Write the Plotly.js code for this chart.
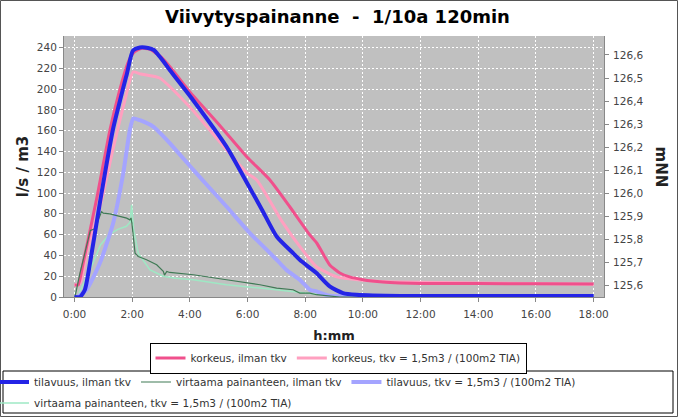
<!DOCTYPE html>
<html>
<head>
<meta charset="utf-8">
<script src="https://cdn.plot.ly/plotly-3.0.1.min.js"></script>
<style>
  html, body { margin: 0; padding: 0; background: #fff; }
  #chart { width: 678px; height: 417px; }
</style>
</head>
<body>
<div id="chart"></div>
<script>
// ---- Data (time in hours) ----
const tickHours = [0, 2, 4, 6, 8, 10, 12, 14, 16, 18];
const tickLabels = ["0:00", "2:00", "4:00", "6:00", "8:00", "10:00", "12:00", "14:00", "16:00", "18:00"];

// korkeus, ilman tkv (mNN, right axis)
const korkeusIlmanT = [0, 0.13, 0.3, 0.78, 1.23, 1.55, 1.85, 2.05, 2.3, 2.6, 3.0, 3.4, 4.0, 5.0, 5.98, 6.77, 7.47, 8.16, 8.4, 8.85, 9.2, 9.54, 10.0, 10.69, 11.28, 12, 14, 16, 18];
const korkeusIlmanV = [125.603, 125.604, 125.698, 125.984, 126.275, 126.44, 126.565, 126.61, 126.628, 126.625, 126.591, 126.535, 126.44, 126.30, 126.158, 126.059, 125.941, 125.82, 125.785, 125.69, 125.655, 125.638, 125.626, 125.616, 125.612, 125.61, 125.609, 125.608, 125.607];

// korkeus, tkv = 1,5m3 / (100m2 TIA) (mNN, right axis)
const korkeusTkvT = [0, 0.2, 0.47, 0.9, 1.33, 1.75, 2.03, 2.3, 2.95, 4.0, 5.98, 6.32, 7.23, 7.9, 8.4, 9.1, 9.9, 11.28, 14, 18];
const korkeusTkvV = [125.603, 125.612, 125.768, 125.95, 126.188, 126.405, 126.526, 126.517, 126.5, 126.374, 126.088, 126.058, 125.872, 125.755, 125.681, 125.638, 125.625, 125.616, 125.612, 125.606];

// tilavuus, ilman tkv (m3, left axis)
const tilavuusIlmanT = [0, 0.19, 0.36, 0.54, 0.88, 1.33, 1.82, 2.03, 2.27, 2.55, 2.75, 2.9, 3.1, 3.31, 4.12, 5.27, 6.08, 6.5, 7.01, 7.58, 7.81, 8.16, 8.39, 8.85, 9.31, 9.78, 11.3, 14, 18];
const tilavuusIlmanV = [0, 0, 7, 33, 90.5, 160.6, 215, 237, 240, 239.5, 237.5, 233, 226, 218, 189, 144.6, 104.8, 84, 58.2, 42.2, 35.8, 28, 23, 10.2, 3.8, 2.2, 1, 1, 1];

// virtaama painanteen, ilman tkv (l/s, left axis)
const virtaamaIlmanT = [0, 0.02, 0.19, 0.42, 0.55, 0.75, 0.82, 0.94, 1.0, 1.23, 1.5, 1.81, 1.92, 1.96, 1.99, 2.1, 2.21, 2.5, 2.85, 2.96, 3.08, 3.12, 3.2, 3.3, 4.12, 5.27, 6.08, 6.43, 7.01, 7.58, 7.81, 8.16, 8.39, 8.85, 9.2, 18];
const virtaamaIlmanV = [0, 0.6, 23, 48.6, 64, 66, 74, 82, 80.6, 80, 78, 75.8, 74.2, 76, 71, 42.2, 39, 35.8, 31, 27.8, 24.6, 21, 24.6, 23.6, 21.4, 16.6, 13.4, 11.8, 8.6, 7, 3.8, 3.8, 2.2, 1.2, 0, 0];

// tilavuus, tkv = 1,5m3 / (100m2 TIA) (m3, left axis)
const tilavuusTkvT = [0, 0.09, 0.42, 0.88, 1.34, 1.69, 1.92, 2.04, 2.27, 2.73, 3.31, 4.12, 5.27, 6.08, 6.43, 7.01, 7.35, 7.81, 8.16, 8.39, 8.8, 9.3, 9.6, 18];
const tilavuusTkvV = [0, 0, 7, 32.6, 71, 119, 160.6, 171.8, 170, 163.8, 147.8, 122.2, 87, 61.4, 51.8, 35.8, 26, 16.6, 7, 5.4, 1.5, 0.5, 0, 0];

// virtaama painanteen, tkv = 1,5m3 / (100m2 TIA) (l/s, left axis)
const virtaamaTkvT = [0, 0.1, 0.6, 0.9, 1.2, 1.5, 1.8, 1.93, 1.98, 2.05, 2.21, 2.62, 3.08, 3.5, 4.12, 5.27, 6.43, 7.58, 8.16, 8.8, 9.5, 10, 18];
const virtaamaTkvV = [0, 0, 30, 50, 60, 65, 68, 72, 88.6, 65, 42, 26, 20, 18, 16.6, 11.8, 8.6, 5.4, 3.8, 1.5, 0.3, 0, 0];

const names = {
  korkeusIlman: "korkeus, ilman tkv",
  korkeusTkv: "korkeus, tkv = 1,5m3 / (100m2 TIA)",
  tilavuusIlman: "tilavuus, ilman tkv",
  virtaamaIlman: "virtaama painanteen, ilman tkv",
  tilavuusTkv: "tilavuus, tkv = 1,5m3 / (100m2 TIA)",
  virtaamaTkv: "virtaama painanteen, tkv = 1,5m3 / (100m2 TIA)"
};

// ---- Geometry helpers (plot area 64..604 x, 36..297 y) ----
const W = 678, H = 417, ML = 64, MR = 74, MT = 36, MB = 120;
const PW = W - ML - MR, PH = H - MT - MB;
const px2x = p => (p - ML) / PW;
const px2y = p => 1 - (p - MT) / PH;

const FONT = "DejaVu Sans";

const traces = [
  { x: korkeusTkvT, y: korkeusTkvV, name: names.korkeusTkv, yaxis: "y", legend: "legend", legendrank: 2,
    mode: "lines", line: { color: "#ffa0c0", width: 3, shape: "spline", smoothing: 0.5 } },
  { x: korkeusIlmanT, y: korkeusIlmanV, name: names.korkeusIlman, yaxis: "y", legend: "legend", legendrank: 1,
    mode: "lines", line: { color: "#f0508c", width: 3, shape: "spline", smoothing: 0.5 } },
  { x: virtaamaTkvT, y: virtaamaTkvV, name: names.virtaamaTkv, yaxis: "y2", legend: "legend3", legendrank: 4,
    mode: "lines", line: { color: "#9ee8c4", width: 1.5 } },
  { x: tilavuusTkvT, y: tilavuusTkvV, name: names.tilavuusTkv, yaxis: "y2", legend: "legend2", legendrank: 3,
    mode: "lines", line: { color: "#a4a4ff", width: 4, shape: "spline", smoothing: 0.5 } },
  { x: virtaamaIlmanT, y: virtaamaIlmanV, name: names.virtaamaIlman, yaxis: "y2", legend: "legend2", legendrank: 2,
    mode: "lines", line: { color: "#3f7a55", width: 1.2 } },
  { x: tilavuusIlmanT, y: tilavuusIlmanV, name: names.tilavuusIlman, yaxis: "y2", legend: "legend2", legendrank: 1,
    mode: "lines", line: { color: "#2424e6", width: 4, shape: "spline", smoothing: 0.6 } }
];

const tickFont = { family: FONT, size: 10.5, color: "#444" };
const legendFont = { family: FONT, size: 10.5, color: "#333" };

const layout = {
  width: W, height: H,
  margin: { l: ML, r: MR, t: MT, b: MB, pad: 0, autoexpand: false },
  paper_bgcolor: "#ffffff",
  plot_bgcolor: "#c0c0c0",
  separators: ",.",
  showlegend: true,
  title: {
    text: "Viivytyspainanne \u00a0-\u00a0 1/10a 120min",
    font: { family: FONT, size: 18, weight: 700, color: "#000" },
    xref: "paper", x: px2x(337.5), xanchor: "center",
    yref: "container", y: 1 - 17 / H, yanchor: "middle",
    automargin: false
  },
  xaxis: {
    range: [-0.364, 18.36],
    tickvals: tickHours, ticktext: tickLabels,
    showgrid: true, gridcolor: "#ffffff", griddash: "2px,2px", gridwidth: 1,
    zeroline: false, showline: true, linecolor: "#888", linewidth: 1,
    ticks: "outside", ticklen: 4, tickcolor: "#888", ticklabelstandoff: 3,
    tickfont: tickFont, automargin: false,
    title: { text: "h:mm", font: { family: FONT, size: 13, weight: 700, color: "#222" }, standoff: 12 }
  },
  yaxis: {
    range: [125.551, 126.682],
    side: "right",
    tick0: 125.6, dtick: 0.1, tickformat: ".1f",
    showgrid: false, zeroline: false, showline: true, linecolor: "#888",
    ticks: "outside", ticklen: 4, tickcolor: "#888", ticklabelstandoff: 2,
    tickfont: tickFont, automargin: false
  },
  yaxis2: {
    range: [0, 251],
    overlaying: "y", side: "left",
    tick0: 0, dtick: 20,
    showgrid: true, gridcolor: "#ffffff", griddash: "2px,2px", gridwidth: 1,
    zeroline: false, showline: true, linecolor: "#888",
    ticks: "outside", ticklen: 4, tickcolor: "#888",
    tickfont: tickFont, automargin: false,
    title: { text: "l/s / m3", font: { family: FONT, size: 15, weight: 700, color: "#222" }, standoff: 4 }
  },
  legend: {
    orientation: "h", traceorder: "normal",
    x: px2x(338), xanchor: "center", y: px2y(358), yanchor: "middle",
    bgcolor: "#ffffff", bordercolor: "#000", borderwidth: 1,
    font: legendFont, itemwidth: 30
  },
  legend2: {
    orientation: "h", traceorder: "normal",
    x: px2x(-6), xanchor: "left", y: px2y(382), yanchor: "middle",
    bgcolor: "rgba(0,0,0,0)", borderwidth: 0,
    font: legendFont, itemwidth: 30
  },
  legend3: {
    orientation: "h", traceorder: "normal",
    x: px2x(-6), xanchor: "left", y: px2y(403), yanchor: "middle",
    bgcolor: "rgba(0,0,0,0)", borderwidth: 0,
    font: legendFont, itemwidth: 30
  },
  annotations: [
    { text: "mNN", xref: "paper", yref: "paper", x: px2x(661), y: px2y(166.5),
      xanchor: "center", yanchor: "middle", showarrow: false, textangle: 90,
      font: { family: FONT, size: 15, weight: 700, color: "#222" } }
  ],
  shapes: [
    { type: "rect", xref: "paper", yref: "paper",
      x0: px2x(0.5), x1: px2x(677.5), y0: px2y(416.5), y1: px2y(0.5),
      line: { color: "#555", width: 1 }, fillcolor: "rgba(0,0,0,0)" },
    { type: "rect", xref: "paper", yref: "paper",
      x0: px2x(3), x1: px2x(673), y0: px2y(413), y1: px2y(371),
      line: { color: "#000", width: 1 }, fillcolor: "rgba(0,0,0,0)" }
  ]
};

Plotly.newPlot("chart", traces, layout, { displayModeBar: false, staticPlot: true });
</script>
</body>
</html>
